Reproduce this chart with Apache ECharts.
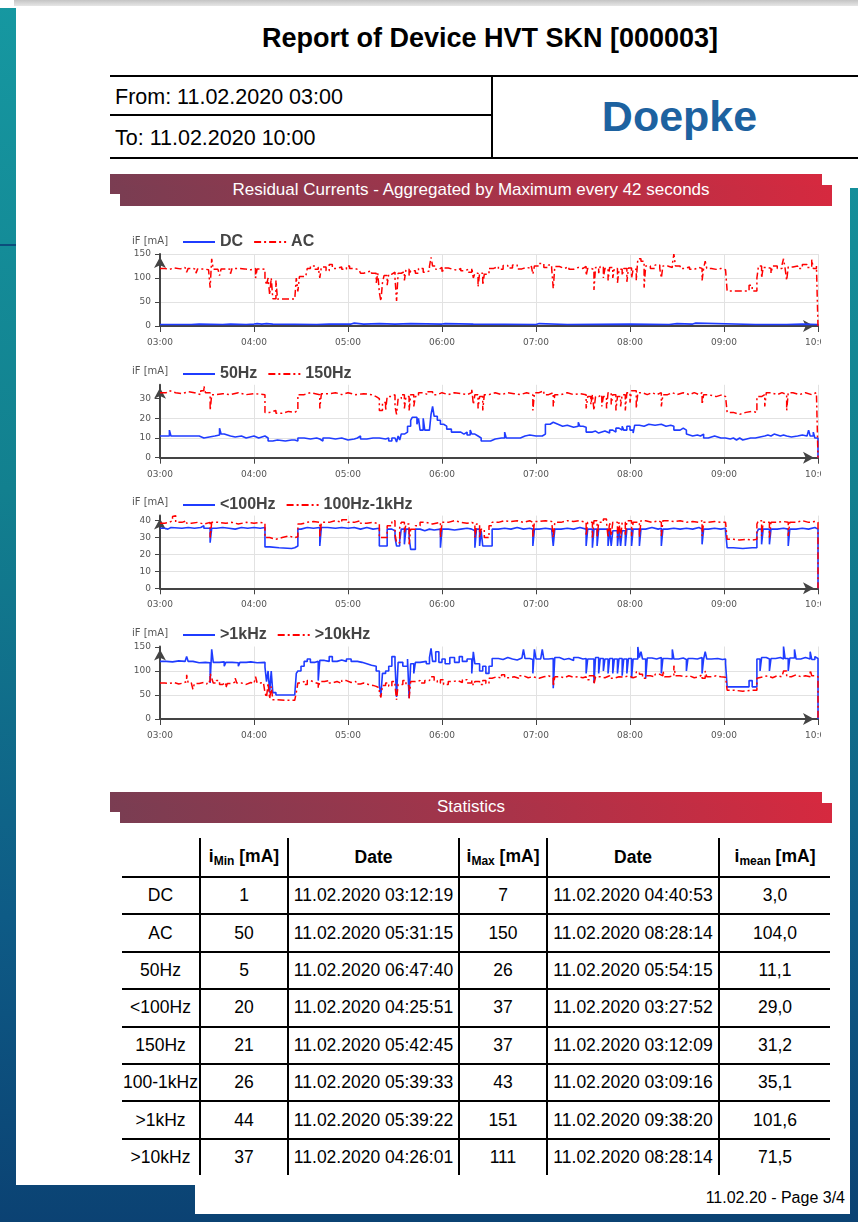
<!DOCTYPE html>
<html><head><meta charset="utf-8">
<script src="https://cdn.jsdelivr.net/npm/echarts@6/dist/echarts.min.js"></script>
<style>
html,body{margin:0;padding:0;}
body{width:858px;height:1222px;position:relative;overflow:hidden;font-family:"Liberation Sans",Arial,sans-serif;
 background:linear-gradient(180deg,#1698a1 0%,#12808f 40%,#0e5b86 75%,#0b4273 100%);}
.abs{position:absolute;}
.white{background:#fff;position:absolute;}
.banner{position:absolute;background:linear-gradient(90deg,#7a3d52 0%,#a4344a 50%,#d6293f 100%);}
.btext{position:absolute;left:110px;width:722px;text-align:center;color:#fff;font-size:17px;}
#stats{position:absolute;left:122px;top:838px;border-collapse:collapse;table-layout:fixed;width:708px;font-size:17.5px;color:#000;}
#stats td,#stats th{text-align:center;padding:0;white-space:nowrap;}
#stats th{font-weight:bold;height:38px;}
#stats td{height:35.4px;}
#stats th+th,#stats td+td{border-left:2px solid #000;}
#stats tbody tr td{border-top:2px solid #000;}
#stats sub{font-size:12px;vertical-align:-3px;}
#clip{position:absolute;left:110px;top:225px;width:711px;height:530px;overflow:hidden;}
#chart{position:absolute;left:0;top:0;width:740px;height:530px;}
</style></head><body>
<div class="white" style="left:0;top:0;width:858px;height:8px;"></div>
<div class="abs" style="left:14px;top:0;width:844px;height:6px;background:linear-gradient(180deg,#c4c4c4,#e6e6e6);"></div>
<div class="white" style="left:16px;top:8px;width:834px;height:1177px;"></div>
<div class="white" style="left:850px;top:6px;width:8px;height:182px;"></div>
<div class="white" style="left:195px;top:1185px;width:655px;height:29px;"></div>
<div class="abs" style="left:0;top:244px;width:16px;height:2px;background:#0c4d7c;"></div>

<div class="abs" id="title" style="left:110px;top:23px;width:760px;text-align:center;font-weight:bold;font-size:27px;">Report of Device HVT SKN [000003]</div>

<div class="abs" style="left:110px;top:75px;width:748px;height:2px;background:#000;"></div>
<div class="abs" style="left:110px;top:114px;width:382px;height:2px;background:#000;"></div>
<div class="abs" style="left:110px;top:157px;width:748px;height:2px;background:#000;"></div>
<div class="abs" style="left:491px;top:75px;width:2px;height:84px;background:#000;"></div>
<div class="abs" style="left:115px;top:85px;font-size:21.5px;">From: 11.02.2020 03:00</div>
<div class="abs" style="left:115px;top:126px;font-size:21.5px;">To: 11.02.2020 10:00</div>
<div class="abs" style="left:497px;top:92px;width:365px;text-align:center;font-size:43px;font-weight:bold;color:#1d62a0;">Doepke</div>

<div class="banner" style="left:110px;top:174px;width:712px;height:20px;"></div>
<div class="banner" style="left:120px;top:185px;width:712px;height:21px;"></div>
<div class="btext" style="top:180px;">Residual Currents - Aggregated by Maximum every 42 seconds</div>

<div class="banner" style="left:110px;top:792px;width:712px;height:20px;"></div>
<div class="banner" style="left:120px;top:803px;width:712px;height:20px;"></div>
<div class="btext" style="top:797px;">Statistics</div>

<table id="stats"><colgroup><col style="width:78px"><col style="width:88px"><col style="width:171px"><col style="width:88px"><col style="width:172px"><col style="width:111px"></colgroup>
<thead><tr><th></th><th>i<sub>Min</sub> [mA]</th><th>Date</th><th>i<sub>Max</sub> [mA]</th><th>Date</th><th>i<sub>mean</sub> [mA]</th></tr></thead>
<tbody id="statBody"></tbody></table>

<div class="abs" style="left:600px;top:1189px;width:245px;text-align:right;font-size:16px;">11.02.20 - Page 3/4</div>

<div id="clip"><div id="chart"></div></div>

<script>
// ---------- statistics table data ----------
const statNames = ['DC','AC','50Hz','<100Hz','150Hz','100-1kHz','>1kHz','>10kHz'];
const statMin = ['1','50','5','20','21','26','44','37'];
const statMinDate = ['11.02.2020 03:12:19','11.02.2020 05:31:15','11.02.2020 06:47:40','11.02.2020 04:25:51','11.02.2020 05:42:45','11.02.2020 05:39:33','11.02.2020 05:39:22','11.02.2020 04:26:01'];
const statMax = ['7','150','26','37','37','43','151','111'];
const statMaxDate = ['11.02.2020 04:40:53','11.02.2020 08:28:14','11.02.2020 05:54:15','11.02.2020 03:27:52','11.02.2020 03:12:09','11.02.2020 03:09:16','11.02.2020 09:38:20','11.02.2020 08:28:14'];
const statMean = ['3,0','104,0','11,1','29,0','31,2','35,1','101,6','71,5'];

// ---------- chart data: [minutes after 03:00, mA] ----------
const hourLabels = ['03:00','04:00','05:00','06:00','07:00','08:00','09:00','10:00'];

const dcValues = [[0,3],[12,1],[13,3],[20,4],[25,3],[40,4],[45,3],[55,4],[60,5],[62,4],[65,5],[68,4],[72,3],[100,7],[101,4],[108,4],[122,6],[124,4],[130,5],[140,4],[150,5],[160,4],[180,5],[182,4],[200,3],[240,5],[242,3],[260,4],[300,3],[325,5],[330,4],[340,6],[342,3],[380,3],[400,4],[410,3],[420,0]];

const acValues = [[0,120],[3,118],[6,121],[9,119],[13,122],[16,121],[17,112],[18,120],[21,118],[23,110],[24,119],[28,117],[31,119],[32,80],[33,140],[34,118],[37,120],[38,105],[39,119],[43,118],[45,109],[46,120],[50,119],[54,117],[58,120],[61,100],[62,119],[65,118],[67,100],[68,85],[69,100],[70,65],[71,100],[72,57],[74,95],[75,56],[86,56],[87,100],[88,72],[89,103],[93,105],[94,120],[96,125],[99,118],[101,123],[102,100],[103,123],[106,115],[108,128],[110,120],[113,123],[116,118],[119,125],[121,120],[124,117],[127,118],[128,110],[130,113],[133,115],[135,110],[138,90],[139,110],[140,70],[141,52],[142,90],[143,105],[145,85],[146,108],[148,112],[150,100],[151,52],[152,110],[154,113],[156,95],[157,118],[159,105],[160,115],[163,110],[165,120],[168,112],[170,115],[172,124],[173,143],[174,125],[176,118],[178,122],[180,110],[181,121],[184,118],[187,116],[190,120],[192,115],[194,118],[197,112],[199,121],[200,100],[201,110],[203,82],[204,110],[206,85],[207,108],[210,120],[213,124],[216,118],[219,126],[222,121],[225,127],[228,119],[231,122],[234,120],[237,125],[238,108],[239,125],[242,130],[245,122],[248,127],[250,120],[251,78],[252,124],[255,120],[258,123],[261,118],[264,122],[267,120],[270,124],[272,105],[273,120],[275,118],[277,75],[278,122],[280,110],[281,124],[283,100],[284,120],[286,95],[287,122],[289,100],[290,120],[292,90],[293,118],[295,105],[296,120],[298,92],[299,121],[301,100],[302,118],[304,95],[305,140],[307,135],[309,80],[310,125],[313,120],[316,127],[319,120],[320,100],[321,125],[324,122],[327,128],[328,150],[329,125],[332,120],[335,123],[338,118],[341,122],[344,120],[346,95],[347,120],[348,135],[349,120],[352,118],[355,120],[358,117],[361,115],[362,73],[376,85],[378,73],[381,100],[382,125],[384,100],[385,122],[388,120],[390,110],[391,125],[394,120],[397,127],[398,140],[399,120],[400,95],[401,123],[404,125],[407,120],[410,128],[413,122],[416,138],[417,120],[419,125],[420,0]];

const hz50Values = [[0,11],[4,11],[6,14],[7,11],[13,12],[14,11],[20,11],[25,10],[28,11],[35,11.5],[38,15],[39,12],[41,11],[45,10.5],[48,11],[52,10],[55,11],[60,10],[63,11],[67,10],[69,8.5],[72,9],[75,8.5],[80,9],[84,9],[86,8.5],[88,10],[92,9.5],[96,10],[100,9.5],[102,8.5],[104,10],[108,9.5],[112,10],[116,9],[120,9.5],[124,10],[126,11],[128,9.5],[132,10],[136,10],[140,9.5],[144,10],[146,8.5],[148,10],[150,9.5],[151,8],[152,11],[153,9],[154,12],[156,13],[158,16],[160,19],[161,20.5],[164,17],[165,20],[166,14],[168,20],[169,14],[172,14],[173,22],[174,26],[175,21],[177,19],[179,17],[181,16],[183,14.5],[186,13],[190,13],[192,12],[194,13],[196,11.5],[198,14],[199,12],[201,11],[203,10],[205,8.5],[209,8.5],[211,9.5],[214,10],[218,10],[220,13],[221,10],[225,10],[230,11],[233,11.5],[236,11],[240,11],[244,12],[246,17],[249,18],[251,17],[254,16],[257,16.5],[260,16],[262,15.5],[264,16],[267,18],[268,16],[270,15.5],[272,13],[276,13.5],[278,12.5],[280,13.5],[284,12.5],[287,14],[289,13],[291,15],[293,14],[295,16],[296,14],[298,16],[300,14],[302,12.5],[303,16.5],[306,16],[309,17],[312,16.5],[316,17],[320,16],[323,16.5],[326,16],[328,14],[332,15],[334,14],[336,12],[337,11],[340,11.5],[343,11],[345,12],[347,10],[350,11],[354,10],[358,10],[361,9.5],[364,10],[366,9],[368,10],[370,9],[372,10],[377,10],[380,10.5],[383,11],[386,11.5],[388,11],[390,12],[392,11],[396,11.5],[398,11],[400,10.5],[403,11],[407,11.5],[410,11],[413,12],[414,14],[415,11],[417,13],[418,10],[420,0]];

const hz150Values = [[0,33],[4,34],[6,33],[10,32.5],[14,33.5],[18,33],[22,32],[26,34],[28,36.5],[29,33],[32,24],[33,32],[36,32.5],[40,32],[45,33],[50,32],[55,32.5],[60,32],[67,23],[70,24],[74,22.5],[78,23.5],[82,23],[86,24],[88,32],[92,33],[96,32],[102,25],[103,32.5],[108,33],[112,32],[116,33],[120,32],[125,32.5],[130,32],[135,31],[138,30],[140,24],[142,28],[144,24],[145,31],[148,32],[150,26],[151,22],[152,30],[154,32],[156,25],[157,31],[159,24],[160,32],[162,26],[163,31],[165,33],[168,32],[171,33.5],[174,32],[177,33],[180,32],[184,33],[188,32.5],[192,32],[196,33],[199,35],[200,27],[201,32],[203,25],[204,31],[206,24],[207,32],[210,33],[214,32],[218,33],[222,32.5],[226,32],[230,33],[234,32],[238,24],[239,33],[242,34],[245,32],[248,33],[251,26],[252,32],[256,33],[260,32],[264,32.5],[268,32],[272,25],[273,31],[275,27],[276,32],[277,24],[278,31],[280,32],[282,26],[283,31],[285,25],[286,33],[288,27],[289,32],[291,24],[292,31],[294,26],[295,32],[297,24],[298,33],[300,28],[301,34],[304,25],[305,33],[308,32],[311,33],[314,32],[317,33],[320,26],[321,32],[324,33],[327,32],[330,33],[334,32],[338,33],[341,32],[344,33],[346,27],[347,32],[350,31],[355,32],[359,31],[361,30],[362,23],[366,22],[370,23],[374,23.5],[378,23],[381,31],[384,32],[386,26],[387,33],[390,32],[394,33],[397,32],[400,24],[401,33],[404,32],[408,33],[412,32],[416,33],[419,34],[420,0]];

const lt100Values = [[0,35.5],[3,35],[5,36],[7,36.5],[8,35.5],[14,36],[18,35.5],[22,36],[26,35],[27,37],[28,35.5],[32,27],[33,35.5],[36,36],[40,35.5],[44,35],[48,36],[52,35.5],[56,36],[60,35.5],[64,36],[67,24.5],[70,24],[76,23.5],[84,24],[86,25],[88,35],[90,36],[94,35.5],[98,36],[102,25],[103,36],[107,35.5],[112,36],[116,35.5],[120,36],[124,35],[128,36],[132,35],[136,35.5],[140,25],[145,35],[148,34],[150,30],[151,25],[153,28],[154,35],[156,26],[157,35],[159,30],[160,23],[163,35],[166,34],[169,35],[172,34.5],[175,35],[179,24],[180,35],[184,34.5],[188,35],[192,35.5],[196,35],[199,34],[201,24],[202,35],[204,25],[205,34],[206,25],[210,25],[212,35],[216,35.5],[220,35],[224,36],[228,35],[232,35.5],[236,35],[238,25],[239,35],[242,35.5],[246,35],[250,35.5],[251,25],[252,35],[256,35.5],[260,35],[264,36],[268,35],[272,25],[273,35],[276,24],[277,35],[279,25],[280,35],[286,25],[287,35],[288,25],[289,34],[292,25],[293,35],[294,25],[295,34],[297,25],[298,35],[301,25],[302,35],[306,25],[307,35],[310,36],[314,35],[318,35.5],[320,25],[321,35],[324,35.5],[328,35],[332,35.5],[336,35],[340,36],[344,35],[346,26],[347,35],[350,35.5],[354,35],[358,35.5],[361,34],[362,24],[366,23.5],[372,24],[378,24],[381,33],[382,35],[384,26],[385,35],[389,26],[390,35],[394,35.5],[398,35],[401,25],[402,35],[406,35.5],[410,35],[414,36],[418,35],[420,0]];

const hz100to1kValues = [[0,38.5],[3,39],[6,40],[8,42.5],[9,43],[10,39],[14,40],[17,38.5],[20,39],[24,38],[28,39],[32,30],[33,39],[37,38.5],[42,39],[46,38],[50,39],[55,38.5],[60,39],[64,38.5],[67,30],[70,29],[74,30],[78,31],[82,30],[86,30.5],[88,38],[90,39],[94,39.5],[98,39],[102,30],[103,39],[108,40],[112,39],[116,40.5],[120,39],[124,40],[128,38.5],[132,39],[136,38],[140,30],[145,37],[148,40],[150,32],[151,27],[153,36],[154,39],[156,33],[157,38],[159,26],[160,35],[163,37],[166,39],[170,38],[174,39],[179,30],[180,39],[184,40],[188,39],[192,38.5],[196,39],[199,38],[201,30],[202,38],[204,30],[205,35],[207,30],[210,37],[212,39],[216,40],[220,39.5],[224,40],[228,39],[232,40],[236,39],[238,30],[239,39.5],[242,40],[246,39.5],[250,40],[251,30],[252,39],[256,40],[260,39.5],[264,40],[268,39],[272,31],[273,39],[276,30],[277,40],[279,30],[280,39],[283,41],[285,39],[286,30],[287,39],[288,31],[289,39],[292,30],[293,39],[294,30],[295,39],[297,31],[298,40],[301,31],[302,39],[306,30],[307,40],[310,39],[314,40],[318,39],[320,31],[321,40],[324,39.5],[328,40],[332,39],[336,39.5],[340,39],[344,40],[346,31],[347,39],[350,39.5],[354,39],[358,39],[361,38],[362,29],[366,28.5],[370,29],[374,28.5],[378,29],[381,38],[382,40],[384,31],[385,39],[389,30],[390,39],[394,39.5],[398,39],[401,31],[402,39],[406,40],[410,39],[414,39.5],[418,39],[420,0]];

const gt1kValues = [[0,120],[4,119],[8,121],[12,120],[16,119],[17,130],[18,120],[21,117],[25,118],[29,117],[32,75],[33,145],[34,118],[38,119],[41,110],[42,118],[46,117],[50,110],[51,118],[55,119],[58,117],[62,118],[67,108],[68,78],[69,100],[70,55],[71,100],[72,55],[74,50],[84,50],[86,52],[87,95],[88,100],[90,110],[92,120],[94,125],[96,118],[99,120],[101,80],[102,122],[105,120],[108,130],[110,120],[113,123],[116,120],[119,125],[122,120],[126,118],[129,115],[132,112],[135,110],[138,100],[140,70],[141,50],[142,95],[144,100],[146,110],[148,130],[150,115],[151,46],[152,118],[155,110],[158,125],[159,44],[160,115],[162,95],[163,118],[166,120],[170,115],[172,128],[173,147],[174,120],[176,140],[178,118],[180,125],[182,115],[185,128],[188,118],[191,130],[193,120],[196,125],[199,95],[200,140],[201,115],[204,100],[206,110],[208,95],[210,110],[212,126],[216,124],[219,128],[222,125],[225,123],[228,127],[231,125],[232,145],[233,126],[236,124],[238,95],[239,145],[240,125],[243,128],[244,145],[245,125],[248,126],[251,64],[252,128],[255,124],[258,126],[261,122],[264,128],[267,125],[270,126],[272,95],[273,125],[277,75],[278,128],[280,95],[281,126],[283,100],[284,125],[286,95],[287,126],[289,95],[290,125],[292,95],[293,126],[295,90],[296,125],[298,95],[299,126],[301,85],[302,125],[305,150],[306,128],[307,140],[308,125],[310,85],[311,127],[314,125],[317,128],[320,95],[321,126],[324,125],[327,145],[328,125],[331,127],[334,124],[336,100],[337,126],[340,125],[343,128],[346,95],[347,125],[348,140],[349,125],[352,126],[356,124],[359,125],[361,115],[362,67],[376,80],[378,67],[381,125],[383,100],[384,128],[387,125],[389,100],[390,126],[393,128],[396,125],[398,151],[399,126],[401,100],[402,127],[405,145],[406,125],[409,128],[412,125],[415,140],[416,124],[418,130],[419,126],[420,0]];

const gt10kValues = [[0,75],[3,74],[6,76],[9,73],[12,75],[15,78],[17,92],[18,75],[20,77],[21,62],[22,74],[25,76],[28,73],[30,78],[32,95],[33,85],[34,75],[36,80],[38,72],[40,76],[42,65],[43,74],[46,77],[48,85],[49,75],[52,72],[55,76],[58,74],[60,78],[61,88],[62,75],[64,76],[66,72],[67,55],[68,45],[69,75],[70,42],[71,68],[72,40],[74,39],[80,39],[84,39],[86,37],[87,55],[88,75],[90,78],[92,72],[94,80],[96,76],[99,74],[101,65],[102,78],[105,80],[108,75],[110,78],[113,74],[116,80],[119,76],[122,78],[125,73],[128,75],[130,72],[133,70],[136,68],[138,65],[140,55],[141,45],[142,70],[144,75],[146,68],[148,78],[150,70],[151,40],[152,72],[155,80],[157,70],[159,42],[160,78],[163,80],[166,75],[169,80],[172,78],[173,88],[175,80],[177,75],[179,82],[181,72],[184,78],[187,80],[190,76],[193,82],[196,75],[199,80],[200,70],[201,78],[204,72],[206,80],[208,74],[210,85],[212,88],[215,85],[218,92],[220,86],[223,88],[226,85],[229,90],[232,86],[235,88],[238,92],[239,85],[242,88],[245,90],[248,86],[251,68],[252,88],[255,86],[258,90],[261,87],[264,88],[267,86],[270,88],[272,82],[274,90],[277,72],[278,88],[281,86],[284,90],[287,85],[290,88],[293,87],[296,90],[299,86],[302,88],[304,98],[306,93],[308,85],[310,90],[313,88],[316,93],[319,90],[321,100],[322,88],[325,90],[328,111],[329,90],[332,88],[335,90],[338,86],[341,88],[344,92],[346,85],[348,100],[349,88],[352,90],[355,88],[358,87],[361,85],[362,60],[366,58],[372,60],[378,60],[381,85],[382,88],[385,90],[388,86],[391,90],[394,88],[397,92],[398,100],[400,88],[403,92],[406,88],[409,90],[412,88],[415,102],[416,90],[418,92],[419,88],[420,0]];

// ---------- build table ----------
const tb = document.getElementById('statBody');
statNames.forEach((n,i)=>{
  const tr = document.createElement('tr');
  [n,statMin[i],statMinDate[i],statMax[i],statMaxDate[i],statMean[i]].forEach(t=>{
    const td=document.createElement('td'); td.textContent=t; tr.appendChild(td);
  });
  tb.appendChild(tr);
});

// ---------- chart ----------
const BLUE = '#1f3cff', RED = '#ff0000', AXIS = '#444';
const panels = [
  {top:29,   h:72,   max:150, interval:50, ticks:[0,50,100,150],   s:[['DC',dcValues],['AC',acValues]]},
  {top:159.8,h:72.9, max:37,  interval:10, ticks:[0,10,20,30],     s:[['50Hz',hz50Values],['150Hz',hz150Values]]},
  {top:290.6,h:72.7, max:43,  interval:10, ticks:[0,10,20,30,40],  s:[['<100Hz',lt100Values],['100Hz-1kHz',hz100to1kValues]]},
  {top:421.5,h:72.5, max:151, interval:50, ticks:[0,50,100,150],   s:[['>1kHz',gt1kValues],['>10kHz',gt10kValues]]}
];
const legendTops = [9,141,272,402];
const grid=[], xAxis=[], yAxis=[], series=[], legend=[];
panels.forEach((p,i)=>{
  grid.push({left:50, right:32, top:p.top, height:p.h, containLabel:false, outerBoundsMode:'none'});
  xAxis.push({type:'value', gridIndex:i, min:0, max:420, interval:60,
    axisLine:{show:true, lineStyle:{color:AXIS,width:2}, symbol:['none','arrow'], symbolSize:[9,11], symbolOffset:[0,-4]},
    axisTick:{show:true, length:6, lineStyle:{color:AXIS,width:1}},
    axisLabel:{margin:12, color:'#555', fontFamily:'DejaVu Sans', fontSize:9, formatter:v=>hourLabels[Math.round(v/60)]},
    splitLine:{show:true, lineStyle:{color:'#e2e2e2',width:1}}});
  yAxis.push({type:'value', gridIndex:i, min:0, max:p.max, interval:p.interval,
    name:'iF [mA]', nameLocation:'end', nameGap:8,
    nameTextStyle:{color:'#555', fontFamily:'DejaVu Sans', fontSize:10, align:'center', padding:[0,20,0,0]},
    axisLine:{show:true, lineStyle:{color:AXIS,width:2}, symbol:['none','arrow'], symbolSize:[9,11], symbolOffset:[0,-3]},
    axisTick:{show:true, length:5, lineStyle:{color:AXIS,width:1}, customValues:p.ticks},
    axisLabel:{color:'#555', fontFamily:'DejaVu Sans', fontSize:9, margin:9, customValues:p.ticks},
    splitLine:{show:true, showMaxLine:p.max===p.ticks[p.ticks.length-1], lineStyle:{color:'#e2e2e2',width:1}}});
  series.push({name:p.s[0][0], type:'line', step:'end', xAxisIndex:i, yAxisIndex:i, data:p.s[0][1],
    symbol:'none', showSymbol:false, animation:false, color:BLUE,
    lineStyle:{color:BLUE, width:1.6}, itemStyle:{color:BLUE}});
  series.push({name:p.s[1][0], type:'line', step:'end', xAxisIndex:i, yAxisIndex:i, data:p.s[1][1],
    symbol:'none', showSymbol:false, animation:false, color:RED,
    lineStyle:{color:RED, width:1.5, type:[7,3,2,3]}, itemStyle:{color:RED}});
  legend.push({data:[p.s[0][0],p.s[1][0]], left:72, top:legendTops[i], padding:0, itemWidth:32, itemHeight:14, itemGap:10,
    itemStyle:{opacity:0}, selectedMode:false,
    textStyle:{fontFamily:'Liberation Sans', fontWeight:'bold', fontSize:16, color:'#444'}});
});
const chart = echarts.init(document.getElementById('chart'), null, {renderer:'canvas'});
chart.setOption({animation:false, grid, xAxis, yAxis, series, legend});
</script>
</body></html>
